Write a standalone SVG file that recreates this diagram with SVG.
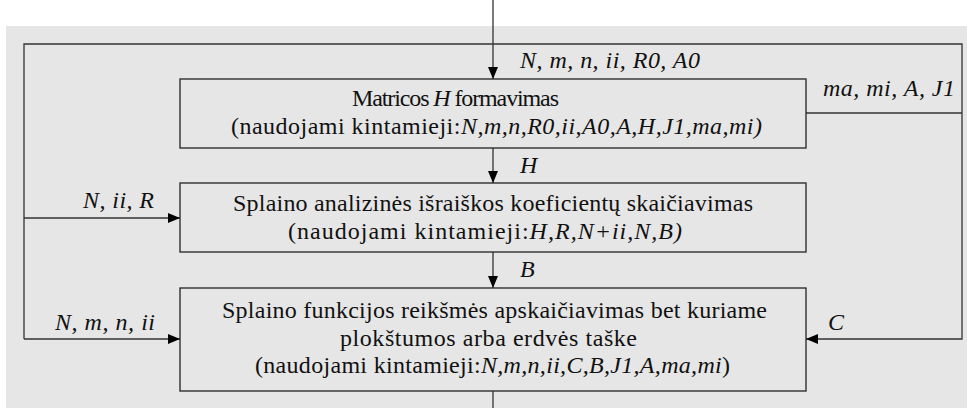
<svg xmlns="http://www.w3.org/2000/svg" width="967" height="408" viewBox="0 0 967 408">
<defs>
<marker id="ah" viewBox="0 0 12 10" refX="12" refY="5" markerWidth="12" markerHeight="10" markerUnits="userSpaceOnUse" orient="auto">
<path d="M0,0 L12,5 L0,10 Z" fill="#000"/>
</marker>
</defs>
<style>
.bg{fill:#e6e6e6}
.box{fill:#e6e6e6;stroke:#222;stroke-width:1.3}
.ln{fill:none;stroke:#333;stroke-width:1.3}
.t{font-family:'Liberation Serif','Times New Roman',serif;font-size:24px;fill:#111}
.i{font-style:italic}
</style>
<rect class="bg" x="6" y="26" width="961" height="382"/>
<g id="connectors">
<line class="ln" x1="493" y1="0" x2="493" y2="79" marker-end="url(#ah)"/>
<polyline class="ln" points="24,339 24,44 962,44 962,339 806,339" marker-end="url(#ah)"/>
<line class="ln" x1="806" y1="113" x2="962" y2="113"/>
<line class="ln" x1="493" y1="148" x2="493" y2="183" marker-end="url(#ah)"/>
<line class="ln" x1="493" y1="252" x2="493" y2="288" marker-end="url(#ah)"/>
<line class="ln" x1="24" y1="218" x2="180" y2="218" marker-end="url(#ah)"/>
<line class="ln" x1="24" y1="339" x2="180" y2="339" marker-end="url(#ah)"/>
<line class="ln" x1="493" y1="391" x2="493" y2="408"/>
</g>
<g id="labels">
<text class="t i" x="520" y="68" textLength="180" lengthAdjust="spacing">N, m, n, ii, R0, A0</text>
<text class="t i" x="823" y="96" textLength="132" lengthAdjust="spacing">ma, mi, A, J1</text>
<text class="t i" x="520" y="173">H</text>
<text class="t i" x="520" y="277">B</text>
<text class="t i" x="83" y="208" textLength="71" lengthAdjust="spacing">N, ii, R</text>
<text class="t i" x="55" y="330" textLength="100" lengthAdjust="spacing">N, m, n, ii</text>
<text class="t i" x="828" y="330">C</text>
</g>
<g id="node1">
<rect class="box" x="180" y="79" width="626" height="69"/>
<text class="t" x="352" y="106" textLength="207" lengthAdjust="spacing">Matricos <tspan class="i">H</tspan> formavimas</text>
<text class="t" x="231" y="134" textLength="531" lengthAdjust="spacing">(naudojami kintamieji:<tspan class="i">N,m,n,R0,ii,A0,A,H,J1,ma,mi)</tspan></text>
</g>
<g id="node2">
<rect class="box" x="180" y="183" width="626" height="69"/>
<text class="t" x="233" y="211" textLength="520" lengthAdjust="spacing">Splaino analizinės išraiškos koeficientų skaičiavimas</text>
<text class="t" x="288" y="239" textLength="394" lengthAdjust="spacing">(naudojami kintamieji:<tspan class="i">H,R,N+ii,N,B)</tspan></text>
</g>
<g id="node3">
<rect class="box" x="180" y="288" width="626" height="103"/>
<text class="t" x="222" y="318" textLength="545" lengthAdjust="spacing">Splaino funkcijos reikšmės apskaičiavimas bet kuriame</text>
<text class="t" x="340" y="346" textLength="297" lengthAdjust="spacing">plokštumos arba erdvės taške</text>
<text class="t" x="255" y="373" textLength="475" lengthAdjust="spacing">(naudojami kintamieji:<tspan class="i">N,m,n,ii,C,B,J1,A,ma,mi</tspan>)</text>
</g>
</svg>
